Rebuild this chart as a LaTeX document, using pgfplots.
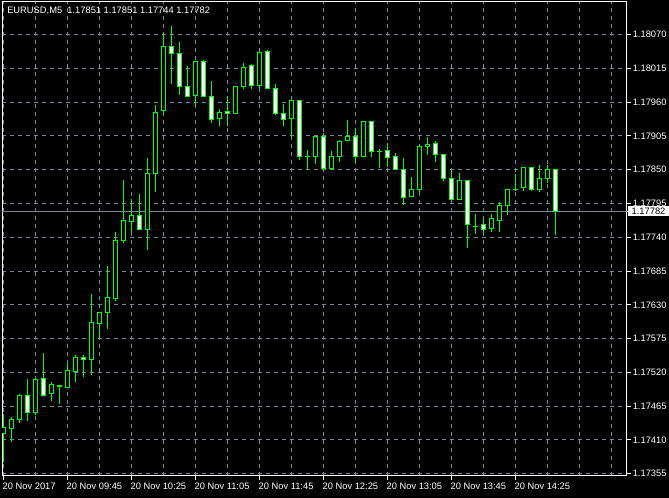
\documentclass[border=0pt]{standalone}
\usepackage{fontspec}
\setmainfont{Liberation Sans}
\usepackage{pgfplots}
\usepackage{pgfplotstable}
\pgfplotsset{compat=1.18}
\definecolor{grd}{RGB}{119,136,153}
\definecolor{cndl}{RGB}{0,255,0}

% EURUSD M5 candles: open high low close
\pgfplotstableread{
o h l c
1.17421 1.17452 1.17374 1.17430
1.17429 1.17447 1.17406 1.17443
1.17443 1.17484 1.17437 1.17482
1.17482 1.17509 1.17441 1.17455
1.17455 1.17511 1.17450 1.17508
1.17510 1.17551 1.17481 1.17483
1.17485 1.17505 1.17473 1.17500
1.17497 1.17500 1.17468 1.17498
1.17496 1.17536 1.17495 1.17523
1.17521 1.17549 1.17504 1.17544
1.17544 1.17548 1.17512 1.17541
1.17541 1.17647 1.17516 1.17601
1.17600 1.17618 1.17572 1.17617
1.17617 1.17693 1.17590 1.17642
1.17641 1.17748 1.17636 1.17734
1.17735 1.17833 1.17731 1.17767
1.17766 1.17803 1.17747 1.17775
1.17775 1.17811 1.17751 1.17753
1.17753 1.17869 1.17719 1.17843
1.17844 1.17955 1.17813 1.17943
1.17946 1.18073 1.17939 1.18050
1.18050 1.18084 1.17990 1.18039
1.18039 1.18058 1.17972 1.17985
1.17985 1.18019 1.17968 1.17969
1.17970 1.18027 1.17952 1.18026
1.18026 1.18028 1.17968 1.17969
1.17969 1.17994 1.17926 1.17932
1.17933 1.17948 1.17921 1.17943
1.17945 1.17970 1.17921 1.17942
1.17942 1.17987 1.17941 1.17985
1.17985 1.18023 1.17982 1.18016
1.18020 1.18022 1.17982 1.17987
1.17987 1.18044 1.17983 1.18041
1.18042 1.18045 1.17982 1.17982
1.17982 1.17989 1.17939 1.17942
1.17942 1.17957 1.17921 1.17932
1.17933 1.17964 1.17904 1.17963
1.17963 1.17963 1.17866 1.17872
1.17872 1.17882 1.17851 1.17872
1.17872 1.17905 1.17859 1.17904
1.17904 1.17909 1.17851 1.17852
1.17852 1.17880 1.17851 1.17872
1.17872 1.17898 1.17862 1.17896
1.17898 1.17931 1.17897 1.17904
1.17904 1.17918 1.17861 1.17872
1.17872 1.17929 1.17870 1.17929
1.17929 1.17929 1.17870 1.17880
1.17880 1.17883 1.17853 1.17879
1.17882 1.17894 1.17855 1.17870
1.17871 1.17877 1.17851 1.17851
1.17850 1.17869 1.17792 1.17805
1.17807 1.17838 1.17805 1.17817
1.17817 1.17890 1.17811 1.17887
1.17887 1.17903 1.17874 1.17891
1.17893 1.17897 1.17862 1.17874
1.17874 1.17874 1.17831 1.17836
1.17836 1.17850 1.17802 1.17802
1.17802 1.17845 1.17801 1.17833
1.17833 1.17833 1.17722 1.17760
1.17758 1.17778 1.17746 1.17758
1.17760 1.17772 1.17746 1.17753
1.17754 1.17778 1.17748 1.17770
1.17768 1.17797 1.17749 1.17791
1.17791 1.17817 1.17776 1.17817
1.17817 1.17843 1.17815 1.17818
1.17821 1.17854 1.17816 1.17854
1.17854 1.17855 1.17815 1.17817
1.17817 1.17858 1.17813 1.17836
1.17836 1.17857 1.17828 1.17851
1.17851 1.17851 1.17744 1.17782
}\ohlc

% price -> points above 1.17000 (keeps full precision)
\def\pp#1{((\thisrow{#1}-1.17)*100000)}

\begin{document}
\begin{tikzpicture}
\useasboundingbox (0pt,0pt) rectangle (501.75pt,373.5pt);
\fill[black] (0pt,0pt) rectangle (501.75pt,373.5pt);
\begin{axis}[
  at={(1.5pt,16.5pt)}, anchor=south west,
  scale only axis, width=468.4pt, height=355.5pt,
  xmin=-0.175, xmax=77.9, ymin=351.3, ymax=1123,
  clip=true,
  axis line style={white, line width=0.75pt},
  font=\fontsize{7}{8}\selectfont,
  xtick={0,8,...,64},
  xticklabels={20 Nov 2017,20 Nov 09:45,20 Nov 10:25,20 Nov 11:05,20 Nov 11:45,20 Nov 12:25,20 Nov 13:05,20 Nov 13:45,20 Nov 14:25},
  minor xtick={4,12,20,28,36,44,52,60,68,72,76},
  xtick pos=bottom,
  ytick={355,410,...,1070},
  yticklabels={1.17355,1.17410,1.17465,1.17520,1.17575,1.17630,1.17685,1.17740,1.17795,1.17850,1.17905,1.17960,1.18015,1.18070},
  ytick pos=right, yticklabel pos=right,
  tick align=outside, major tick length=3pt, minor tick length=0pt,
  tick style={white, line width=0.75pt},
  xmajorgrids, xminorgrids, ymajorgrids,
  major grid style={grd, dash pattern=on 3pt off 3pt, line width=0.75pt},
  minor grid style={grd, dash pattern=on 3pt off 3pt, line width=0.75pt},
  xticklabel style={anchor=base west, inner sep=0pt, text=white, yshift=-7pt, xshift=-0.75pt},
  yticklabel style={anchor=west, inner ysep=0pt, inner xsep=1.5pt, text=white},
  extra y ticks={782},
  extra y tick labels={1.17782},
  extra y tick style={grid=major, major grid style={grd, solid, line width=0.75pt},
    yticklabel style={fill=white, text=black, minimum width=31pt, minimum height=7.5pt, inner sep=0pt, xshift=-2.2pt}},
]
% wicks
\addplot[draw=none, mark=none, forget plot,
  error bars/.cd, y dir=minus, y explicit, error mark=none,
  error bar style={draw=cndl, line width=0.75pt, line cap=butt}]
  table[x expr=\coordindex, y expr={\pp{h}}, y error minus expr={\pp{h}-\pp{l}}] {\ohlc};
% body outlines
\addplot[draw=none, mark=none, forget plot,
  error bars/.cd, y dir=minus, y explicit, error mark=none,
  error bar style={draw=cndl, line width=3.75pt, line cap=butt}]
  table[x expr=\coordindex, y expr={max(\pp{o},\pp{c})+0.814}, y error minus expr={abs(\pp{c}-\pp{o})+1.628}] {\ohlc};
% bull bodies (black inside)
\addplot[draw=none, mark=none, forget plot,
  error bars/.cd, y dir=minus, y explicit, error mark=none,
  error bar style={draw=black, line width=2.25pt, line cap=butt}]
  table[x expr=\coordindex, y expr={\thisrow{c}>\thisrow{o} ? (\pp{c}-0.814) : -1000}, y error minus expr={max(abs(\pp{c}-\pp{o})-1.628,0)}] {\ohlc};
% bear bodies (white inside)
\addplot[draw=none, mark=none, forget plot,
  error bars/.cd, y dir=minus, y explicit, error mark=none,
  error bar style={draw=white, line width=2.25pt, line cap=butt}]
  table[x expr=\coordindex, y expr={\thisrow{c}<\thisrow{o} ? (\pp{o}-0.814) : -1000}, y error minus expr={max(abs(\pp{c}-\pp{o})-1.628,0)}] {\ohlc};
\end{axis}
\node[anchor=base west, inner sep=0pt, text=white, font=\fontsize{7}{8}\selectfont] at (5.25pt,363pt) {EURUSD,M5\ \ 1.17851 1.17851 1.17744 1.17782};
\end{tikzpicture}
\end{document}
